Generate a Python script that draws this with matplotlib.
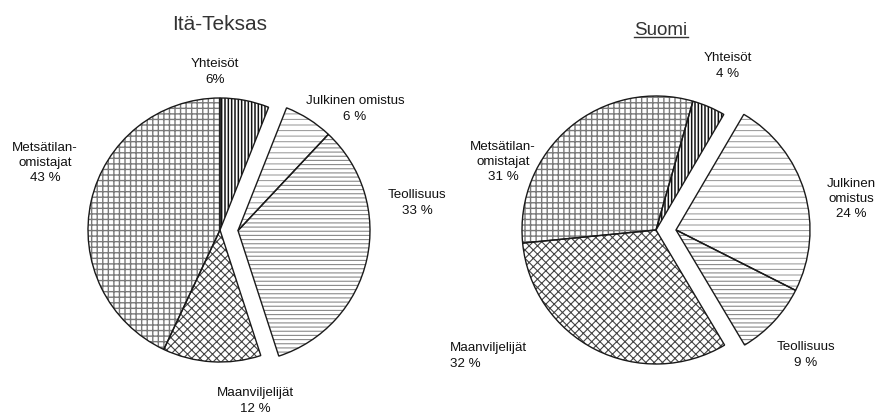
import matplotlib
matplotlib.use("Agg")
import matplotlib.pyplot as plt
import numpy as np

plt.rcParams['font.family'] = ['Liberation Sans', 'DejaVu Sans']
plt.rcParams['hatch.linewidth'] = 0.8

# ---- data ----
categories = ["Yhteisöt", "Julkinen omistus", "Teollisuus", "Maanviljelijät", "Metsätilan-\nomistajat"]
values_texas = [6, 6, 33, 12, 43]
values_suomi = [4, 24, 9, 32, 31]
labels_texas = ["Yhteisöt\n6%", "Julkinen omistus\n6 %", "Teollisuus\n33 %",
                "Maanviljelijät\n12 %", "Metsätilan-\nomistajat\n43 %"]
labels_suomi = ["Yhteisöt\n4 %", "Julkinen\nomistus\n24 %", "Teollisuus\n9 %",
                "Maanviljelijät\n32 %", "Metsätilan-\nomistajat\n31 %"]
titles = ["Itä-Teksas", "Suomi"]
exploded_group = [1, 2]  # Julkinen omistus + Teollisuus pulled out together

# ---- styles ----
hatches = ['|||||', '---', '----', 'xxxx', '+++']
hatch_colors = ['#111111', '#a0a0a0', '#8a8a8a', '#444444', '#7a7a7a']
hatch_lws = [1.1, 0.8, 0.8, 0.8, 1.0]

W, H = 878, 417
fig = plt.figure(figsize=(W / 100, H / 100), dpi=100)
ax = fig.add_axes([0, 0, 1, 1])


def draw_pie(values, center, radius, startangle, offset):
    cx, cy = center
    layers = []
    for layer in range(2):
        if layer == 0:
            wp = dict(linewidth=0, facecolor='white')
        else:
            wp = dict(fill=False, edgecolor='#1a1a1a', linewidth=1.0)
        wedges, _ = ax.pie(values, center=center, radius=radius, startangle=startangle,
                           counterclock=False, wedgeprops=wp, frame=True)
        layers.append(wedges)
    # direction of the exploded group
    t1 = min(layers[0][i].theta1 for i in exploded_group)
    t2 = max(layers[0][i].theta2 for i in exploded_group)
    mid = np.deg2rad((t1 + t2) / 2)
    dx, dy = offset * np.cos(mid), offset * np.sin(mid)
    for i, w in enumerate(layers[0]):
        w.set_hatch(hatches[i])
        w.set_edgecolor(hatch_colors[i])
        w.set_linewidth(0)
        if hasattr(w, 'set_hatch_linewidth'):
            w.set_hatch_linewidth(hatch_lws[i])
    for wedges in layers:
        for i in exploded_group:
            wedges[i].set_center((cx + dx, cy + dy))


def Y(y):
    return H - y


draw_pie(values_texas, (220, Y(230)), 132, 90, 18)
draw_pie(values_suomi, (656, Y(230)), 134, 74, 20)

ax.set_xlim(0, W)
ax.set_ylim(0, H)
ax.set_aspect('equal')
ax.axis('off')

fs = 9.6
tc = '#111111'
lk = dict(fontsize=fs, color=tc, linespacing=1.35, va='center')

# Itä-Teksas labels
pos_texas = [(215, 72, 'center'), (355, 109, 'center'), (417, 203, 'center'),
             (255, 401, 'center'), (45, 163, 'center')]
for lab, (x, y, ha) in zip(labels_texas, pos_texas):
    ax.text(x, Y(y), lab, ha=ha, multialignment='center', **lk)

# Suomi labels
pos_suomi = [(728, 66, 'center'), (851, 199, 'center'), (806, 355, 'center'),
             (450, 356, 'left'), (503, 162, 'center')]
for lab, (x, y, ha) in zip(labels_suomi, pos_suomi):
    ax.text(x, Y(y), lab, ha=ha, multialignment='center' if ha == 'center' else 'left', **lk)

# titles
ax.text(220, Y(24), titles[0], fontsize=15, color='#333333', ha='center', va='center')
t2 = ax.text(661, Y(30), titles[1], fontsize=13.5, color='#333333', ha='center', va='center')

fig.canvas.draw()
bb = t2.get_window_extent(renderer=fig.canvas.get_renderer())
inv = ax.transData.inverted()
(x0, y0), (x1, y1) = inv.transform([(bb.x0, bb.y0), (bb.x1, bb.y1)])
ax.plot([x0, x1], [y0 + 1.5, y0 + 1.5], color='#333333', lw=1.0)

fig.savefig("out.png", dpi=100)
